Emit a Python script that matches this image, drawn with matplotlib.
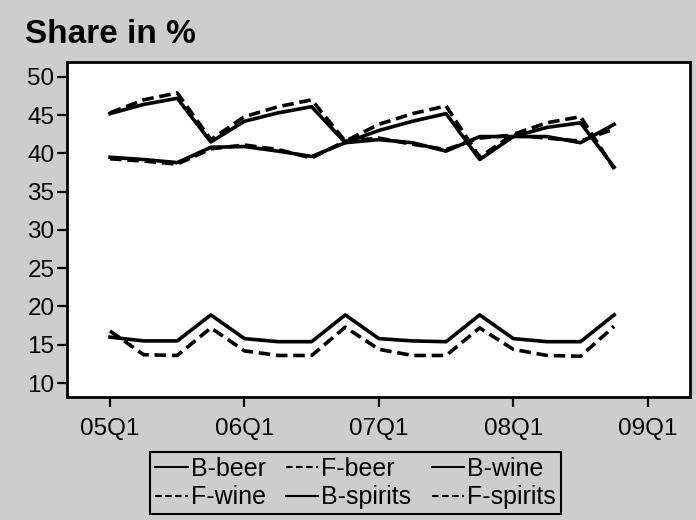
import numpy as np
import matplotlib
matplotlib.use("Agg")
import matplotlib.pyplot as plt

# quarters 05Q1 .. 08Q4
quarters = ['05Q1', '05Q2', '05Q3', '05Q4', '06Q1', '06Q2', '06Q3', '06Q4',
            '07Q1', '07Q2', '07Q3', '07Q4', '08Q1', '08Q2', '08Q3', '08Q4']
tick_labels = ['05Q1', '06Q1', '07Q1', '08Q1', '09Q1']

b_beer = [16.0, 15.5, 15.5, 18.9, 15.8, 15.4, 15.4, 18.9,
          15.8, 15.5, 15.4, 18.9, 15.8, 15.4, 15.4, 18.9]
f_beer = [16.8, 13.7, 13.6, 17.2, 14.2, 13.6, 13.6, 17.3,
          14.4, 13.6, 13.6, 17.2, 14.4, 13.6, 13.5, 17.4]
b_wine = [45.2, 46.4, 47.2, 41.5, 44.2, 45.3, 46.1, 41.4,
          43.0, 44.2, 45.2, 39.2, 42.2, 43.4, 44.0, 38.2]
f_wine = [45.3, 47.0, 47.9, 41.8, 44.8, 46.1, 47.0, 41.6,
          43.8, 45.2, 46.2, 39.5, 42.5, 44.0, 44.8, 38.0]
b_spirits = [39.5, 39.2, 38.8, 40.8, 40.9, 40.3, 39.6, 41.4,
             41.8, 41.4, 40.3, 42.2, 42.2, 42.2, 41.4, 43.8]
f_spirits = [39.3, 39.0, 38.6, 40.6, 41.1, 40.5, 39.4, 41.6,
             42.0, 41.2, 40.5, 42.0, 42.4, 42.0, 41.6, 43.2]

bg = '#cdcdcd'
plt.rcParams['font.family'] = ['Liberation Sans', 'DejaVu Sans']

fig = plt.figure(figsize=(6.96, 5.2), dpi=100, facecolor=bg)
ax = fig.add_axes([0.0963, 0.2365, 0.8947, 0.6445])
ax.set_facecolor('white')

x = np.arange(len(quarters))
dash = (0, (3.2, 1.6))
series = [
    (b_beer, '-', 'B-beer'),
    (f_beer, dash, 'F-beer'),
    (b_wine, '-', 'B-wine'),
    (f_wine, dash, 'F-wine'),
    (b_spirits, '-', 'B-spirits'),
    (f_spirits, dash, 'F-spirits'),
]
lines = []
for vals, ls, name in series:
    ln, = ax.plot(x, vals, color='black', linestyle=ls, linewidth=2.6, label=name)
    lines.append(ln)

ax.set_xlim(-1.28, 17.25)
ax.set_ylim(8.17, 51.96)
ax.set_xticks([0, 4, 8, 12, 16])
ax.set_xticklabels(tick_labels)
ax.set_yticks(range(10, 51, 5))

for s in ax.spines.values():
    s.set_linewidth(2)
    s.set_color('black')
ax.tick_params(axis='both', direction='out', length=7, width=1.6, labelsize=17.5)
ax.tick_params(axis='y', pad=2)
ax.tick_params(axis='x', pad=8)

fig.text(0.036, 0.917, 'Share in %', fontsize=24, fontweight='bold', va='baseline')

# legend in row order: B-beer F-beer B-wine / F-wine B-spirits F-spirits
order = [0, 3, 1, 4, 2, 5]
leg = fig.legend([lines[i] for i in order], [lines[i].get_label() for i in order],
                 ncol=3, loc='center', bbox_to_anchor=(0.511, 0.071),
                 fontsize=18, handlelength=1.3, handletextpad=0.12,
                 columnspacing=0.8, labelspacing=0.18, borderpad=0.2,
                 fancybox=False, framealpha=1, facecolor=bg, edgecolor='black')
leg.get_frame().set_linewidth(1.5)
for h in leg.legend_handles:
    h.set_linewidth(1.5)

fig.savefig('out.png', dpi=100, facecolor=bg)
